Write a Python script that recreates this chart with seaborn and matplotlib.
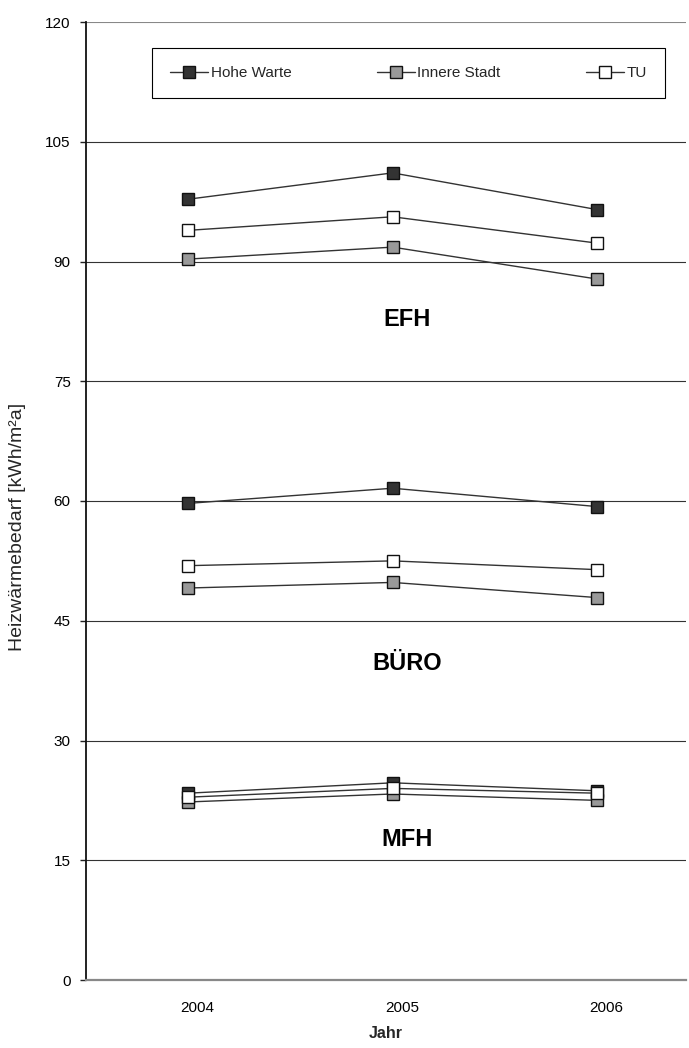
import matplotlib
matplotlib.use("Agg")
import matplotlib.pyplot as plt
import matplotlib.transforms as mtransforms
import seaborn as sns
import pandas as pd

# Heating demand per building type and weather station
years = ["2004", "2005", "2006"]
stations = ["Hohe Warte", "Innere Stadt", "TU"]
groups = ["EFH", "BÜRO", "MFH"]

efh_hohe_warte = [97.8, 101.1, 96.5]
efh_innere_stadt = [90.3, 91.8, 87.8]
efh_tu = [93.9, 95.6, 92.3]

buero_hohe_warte = [59.7, 61.6, 59.3]
buero_innere_stadt = [49.1, 49.8, 47.9]
buero_tu = [51.9, 52.5, 51.4]

mfh_hohe_warte = [23.4, 24.7, 23.7]
mfh_innere_stadt = [22.3, 23.3, 22.5]
mfh_tu = [22.9, 24.0, 23.4]

group_label_y = [82.7, 39.6, 17.6]

y_ticks = [0, 15, 30, 45, 60, 75, 90, 105, 120]

series = {
    ("EFH", "Hohe Warte"): efh_hohe_warte,
    ("EFH", "Innere Stadt"): efh_innere_stadt,
    ("EFH", "TU"): efh_tu,
    ("BÜRO", "Hohe Warte"): buero_hohe_warte,
    ("BÜRO", "Innere Stadt"): buero_innere_stadt,
    ("BÜRO", "TU"): buero_tu,
    ("MFH", "Hohe Warte"): mfh_hohe_warte,
    ("MFH", "Innere Stadt"): mfh_innere_stadt,
    ("MFH", "TU"): mfh_tu,
}

rows = []
for (grp, st), vals in series.items():
    for i, v in enumerate(vals):
        rows.append({"gruppe": grp, "station": st, "x": i, "jahr": years[i], "wert": v})
df = pd.DataFrame(rows)

face = {"Hohe Warte": "#333333", "Innere Stadt": "#999999", "TU": "#ffffff"}

sns.set_theme(style="white")
plt.rcParams["font.family"] = ["Liberation Sans", "DejaVu Sans"]

fig = plt.figure(figsize=(6.89, 10.48), dpi=100)
ax = fig.add_axes([86 / 689, 1 - 980 / 1048, 600 / 689, 958 / 1048])

for grp in groups:
    for st in stations:
        sub = df[(df["gruppe"] == grp) & (df["station"] == st)]
        sns.lineplot(
            data=sub, x="x", y="wert", ax=ax, color="#333333", linewidth=1.0,
            marker="s", markersize=8.5, markerfacecolor=face[st],
            markeredgecolor="#111111", markeredgewidth=1.0,
            label=st if grp == "EFH" else None, legend=False,
        )

ax.set_xlim(-0.4985, 2.434)
ax.set_ylim(0, 120)
ax.set_yticks(y_ticks)
ax.set_yticklabels([str(t) for t in y_ticks], fontsize=11, color="black")
# year labels sit slightly right of the category centre
ax.set_xticks([i + 0.045 for i in range(len(years))])
ax.set_xticklabels(years, fontsize=11, color="black")

ax.tick_params(axis="y", which="major", left=True, length=4, width=1.0,
               color="#222222", pad=7)
ax.tick_params(axis="x", which="major", bottom=False, length=0, pad=15)

for yv in y_ticks[1:]:
    ax.axhline(yv, color="#333333" if yv < 120 else "#888888", linewidth=0.8, zorder=0)

for side in ["top", "right"]:
    ax.spines[side].set_visible(False)
ax.spines["left"].set_color("#111111")
ax.spines["left"].set_linewidth(1.3)
ax.spines["bottom"].set_color("#888888")
ax.spines["bottom"].set_linewidth(1.6)

ax.set_xlabel("Jahr", fontsize=11.5, fontweight="bold", labelpad=8)
ax.set_ylabel("")
fig.text(18 / 689, 1 - 527 / 1048, "Heizwärmebedarf [kWh/m²a]", rotation=90,
         ha="center", va="center", fontsize=14)

label_tr = mtransforms.blended_transform_factory(ax.transAxes, ax.transData)
for grp, yv in zip(groups, group_label_y):
    ax.text(0.535, yv, grp, transform=label_tr, ha="center", va="center",
            fontsize=17, fontweight="bold", color="black")

leg = ax.legend(loc="center", bbox_to_anchor=(0.5375, 0.9468), ncol=3,
                fontsize=11, frameon=True, fancybox=False, borderpad=1.15,
                handlelength=2.5, handletextpad=0.15, columnspacing=5.6,
                borderaxespad=0)
leg.get_frame().set_edgecolor("black")
leg.get_frame().set_linewidth(0.8)
leg.get_frame().set_facecolor("white")
leg.get_frame().set_alpha(1)

fig.savefig("out.png", dpi=100, facecolor="white")
